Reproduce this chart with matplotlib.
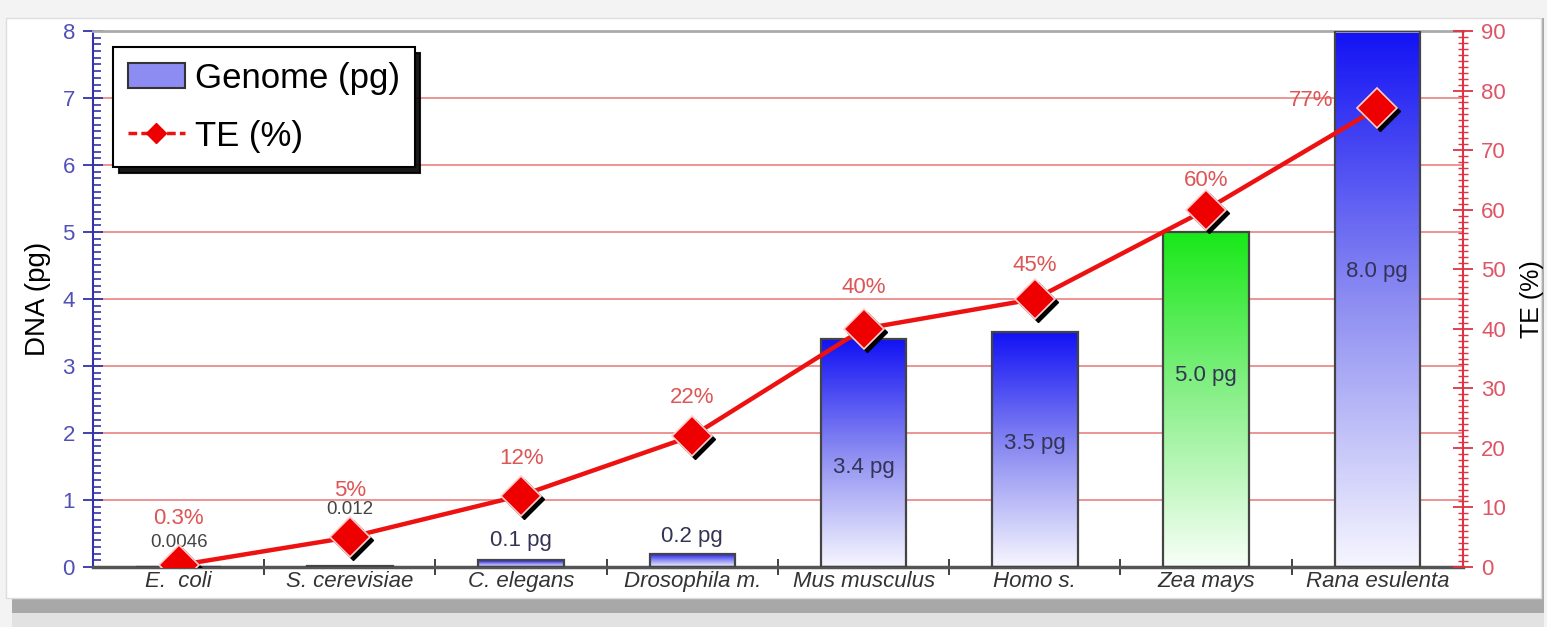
import numpy as np
import matplotlib
matplotlib.use("Agg")
import matplotlib.pyplot as plt
from matplotlib.patches import Rectangle, Patch
from matplotlib.lines import Line2D
from matplotlib.colors import LinearSegmentedColormap
from matplotlib.ticker import MultipleLocator
import matplotlib.transforms as mtransforms

plt.rcParams['font.family'] = ['Liberation Sans', 'DejaVu Sans']

# data
species = ['E.  coli', 'S. cerevisiae', 'C. elegans', 'Drosophila m.',
           'Mus musculus', 'Homo s.', 'Zea mays', 'Rana esulenta']
genome_pg = [0.0046, 0.012, 0.1, 0.2, 3.4, 3.5, 5.0, 8.0]
genome_labels = ['0.0046', '0.012', '0.1 pg', '0.2 pg', '3.4 pg', '3.5 pg', '5.0 pg', '8.0 pg']
te_pct = [0.3, 5, 12, 22, 40, 45, 60, 77]
te_labels = ['0.3%', '5%', '12%', '22%', '40%', '45%', '60%', '77%']
is_plant = [False, False, False, False, False, False, True, False]

# label placement (pixels relative to bar top / marker)
genome_label_dy = [24, 57, 20, 17, -128, -111, -144, -241]
te_label_dxy = [(0, 47), (0, 47), (0, 37), (0, 38), (0, 41), (0, 33), (0, 29), (-66, 8)]

BLUE_CMAP = LinearSegmentedColormap.from_list('bl', ['#f6f6ff', '#8c8cf2', '#1212f5'])
GREEN_CMAP = LinearSegmentedColormap.from_list('gr', ['#f8fff8', '#8cf08c', '#18e818'])
PX = 72 / 100  # points per pixel


def main():
    fig = plt.figure(figsize=(15.47, 6.27), dpi=100)
    fig.patch.set_facecolor('#f3f3f3')

    # white panel with a soft shadow underneath
    fig.patches.append(Rectangle((0.008, 0.0), 0.99, 0.97, transform=fig.transFigure,
                                 facecolor='#e2e2e2', edgecolor='none', zorder=-4))
    fig.patches.append(Rectangle((0.008, 0.022), 0.99, 0.95, transform=fig.transFigure,
                                 facecolor='#a8a8a8', edgecolor='none', zorder=-3))
    fig.patches.append(Rectangle((0.004, 0.047), 0.992, 0.925, transform=fig.transFigure,
                                 facecolor='white', edgecolor='#dddddd', zorder=-2))

    ax = fig.add_axes([0.0601, 0.0957, 0.8856, 0.8549])
    ax.set_facecolor('none')
    ax2 = ax.twinx()

    x = np.arange(len(species))
    width = 0.5

    # gridlines at the DNA ticks
    for yv in range(1, 8):
        ax.axhline(yv, color='#e46464', lw=1.3, alpha=0.75, zorder=0)

    # gradient bars
    bars = ax.bar(x, genome_pg, width=width, facecolor='none',
                  edgecolor='#444444', lw=1.6, zorder=3)
    grad = np.linspace(0, 1, 256).reshape(-1, 1)
    for rect, plant in zip(bars, is_plant):
        x0, h = rect.get_x(), rect.get_height()
        im = ax.imshow(grad, cmap=GREEN_CMAP if plant else BLUE_CMAP, origin='lower',
                       extent=[x0, x0 + width, 0, h], aspect='auto', zorder=2)
        im.set_clip_path(rect)

    for xi, h, lab, dy in zip(x, genome_pg, genome_labels, genome_label_dy):
        small = h < 0.05
        ax.annotate(lab, (xi, h), xytext=(0, dy * PX), textcoords='offset points',
                    ha='center', va='center', fontsize=13.5 if small else 16,
                    color='#444444' if small else '#333355', zorder=5)

    ax.set_xlim(-0.5, 7.5)
    ax.set_ylim(0, 8)
    ax2.set_ylim(0, 90)

    # TE line with shadowed diamonds
    ax2.plot(x, te_pct, color='#ee1111', lw=3.2, zorder=4)
    shadow_tr = mtransforms.offset_copy(ax2.transData, fig=fig, x=3, y=-3, units='dots')
    ax2.plot(x, te_pct, 'D', ms=20, color='black', transform=shadow_tr, zorder=4)
    ax2.plot(x, te_pct, 'D', ms=20, markerfacecolor='#ee0000',
             markeredgecolor='#ffd0d0', markeredgewidth=1.2, ls='none', zorder=5)
    for xi, v, lab, (dx, dy) in zip(x, te_pct, te_labels, te_label_dxy):
        ax2.annotate(lab, (xi, v), xytext=(dx * PX, dy * PX), textcoords='offset points',
                     ha='center', va='center', fontsize=16, color='#dd5555', zorder=6)

    # axes styling
    ax.set_xticks(x)
    ax.set_xticklabels(species, fontsize=16, style='italic', color='#333333')
    ax.tick_params(axis='x', which='major', length=0, pad=3)
    ax.set_xticks(np.arange(0.5, 7.5, 1), minor=True)
    ax.tick_params(axis='x', which='minor', direction='inout', length=12, width=1.3, color='#333333')

    ax.yaxis.set_major_locator(MultipleLocator(1))
    ax.yaxis.set_minor_locator(MultipleLocator(0.1))
    ax.tick_params(axis='y', which='major', direction='inout', length=14, width=1.3,
                   color='#3333aa', labelcolor='#5050b8', labelsize=16, pad=6)
    ax.tick_params(axis='y', which='minor', direction='in', length=6, width=1.2, color='#3333aa')
    ax.set_ylabel('DNA (pg)', fontsize=20, labelpad=8)

    ax2.yaxis.set_major_locator(MultipleLocator(10))
    ax2.yaxis.set_minor_locator(MultipleLocator(1))
    ax2.tick_params(axis='y', which='major', direction='inout', length=14, width=1.3,
                    color='#dd3344', labelcolor='#dd5566', labelsize=16, pad=6)
    ax2.tick_params(axis='y', which='minor', direction='inout', length=7, width=1.0, color='#dd3344')
    ax2.set_ylabel('TE (%)', fontsize=18, labelpad=10)

    ax.spines['left'].set_color('#3333aa')
    ax.spines['left'].set_linewidth(1.5)
    ax.spines['bottom'].set_color('#555555')
    ax.spines['bottom'].set_linewidth(2.5)
    ax.spines['top'].set_color('#aaaaaa')
    ax.spines['top'].set_linewidth(2)
    ax.spines['right'].set_visible(False)
    for s in ['left', 'top', 'bottom']:
        ax2.spines[s].set_visible(False)
    ax2.spines['right'].set_color('#dd3344')
    ax2.spines['right'].set_linewidth(1.5)
    ax.set_zorder(ax2.get_zorder() - 1)
    ax2.patch.set_visible(False)

    # legend
    handles = [Patch(facecolor='#8c8cf2', edgecolor='#333333', lw=1.5),
               Line2D([0], [0], color='#ee1111', lw=2.5, ls=(0, (2.5, 1.2)), marker='D',
                      ms=10, markerfacecolor='#ee0000', markeredgecolor='#ee0000')]
    leg = ax2.legend(handles, ['Genome (pg)', 'TE (%)'], loc='upper left',
                     bbox_to_anchor=(0.0146, 0.970), borderaxespad=0, fontsize=25,
                     fancybox=False, framealpha=1, edgecolor='black', handlelength=1.65,
                     handletextpad=0.3, borderpad=0.42, labelspacing=0.72,
                     shadow={'ox': 4, 'oy': -4, 'color': 'black', 'alpha': 0.9})
    leg.get_frame().set_linewidth(1.5)
    leg.set_zorder(10)

    fig.savefig('out.png', dpi=100, facecolor=fig.get_facecolor())


if __name__ == '__main__':
    main()
